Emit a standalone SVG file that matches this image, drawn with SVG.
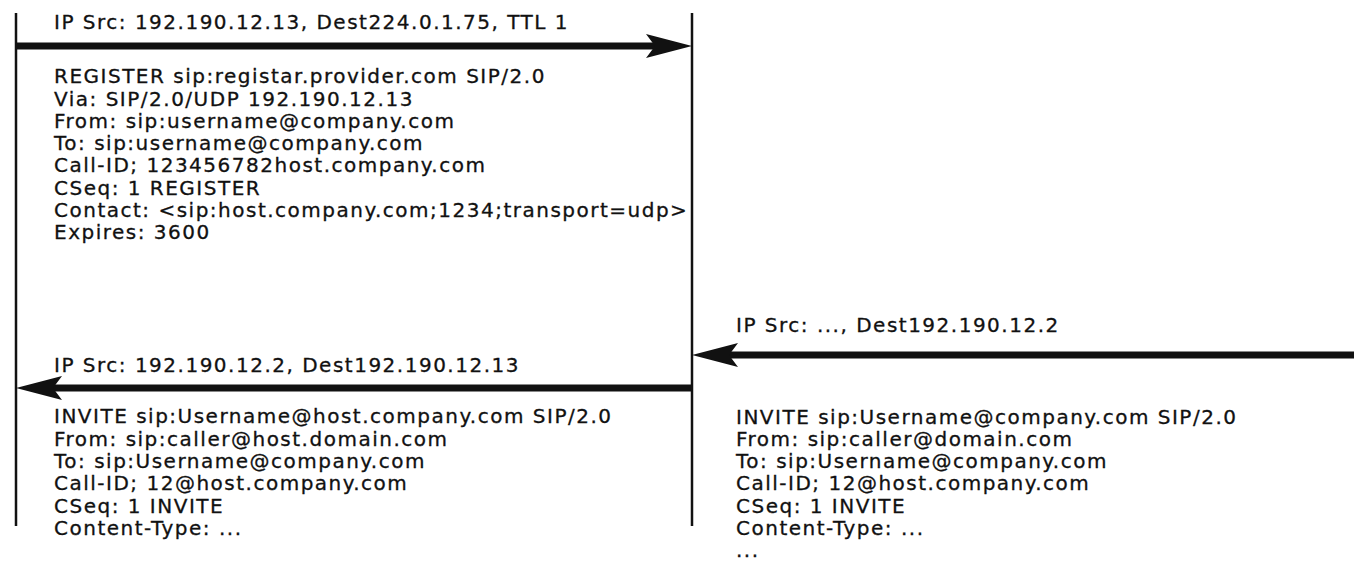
<svg xmlns="http://www.w3.org/2000/svg" width="1354" height="564" viewBox="0 0 1354 564">
<defs>
<style>
.t{font-family:"DejaVu Sans","Liberation Sans",sans-serif;font-size:20px;letter-spacing:1.5px;fill:#111;stroke:#111;stroke-width:0.3}
.life{stroke:#111;stroke-width:2.5;fill:none}
.msg{stroke:#111;stroke-width:7;fill:none}
</style>
<marker id="head" markerUnits="userSpaceOnUse" markerWidth="50" markerHeight="28" viewBox="0 0 50 28" refX="16" refY="14" orient="auto">
<path d="M0,2 L46,14 L0,26 L9,14 Z" fill="#111"/>
</marker>
</defs>
<rect width="1354" height="564" fill="#fff"/>
<g id="lifelines">
<line class="life" x1="16" y1="13" x2="16" y2="526"/>
<line class="life" x1="692" y1="13" x2="692" y2="526"/>
</g>
<g id="connectors">
<path class="msg" d="M16,46 L662,46" marker-end="url(#head)"/>
<path class="msg" d="M1354,355 L722,355" marker-end="url(#head)"/>
<path class="msg" d="M692,388 L46,388" marker-end="url(#head)"/>
</g>
<g id="register">
<text class="t" x="54" y="29">IP Src: 192.190.12.13, Dest224.0.1.75, TTL 1</text>
<text class="t" x="54" y="83">REGISTER sip:registar.provider.com SIP/2.0</text>
<text class="t" x="54" y="106">Via: SIP/2.0/UDP 192.190.12.13</text>
<text class="t" x="54" y="128">From: sip:username@company.com</text>
<text class="t" x="54" y="150">To: sip:username@company.com</text>
<text class="t" x="54" y="172">Call-ID; 123456782host.company.com</text>
<text class="t" x="54" y="195">CSeq: 1 REGISTER</text>
<text class="t" x="54" y="217">Contact: &lt;sip:host.company.com;1234;transport=udp&gt;</text>
<text class="t" x="54" y="239">Expires: 3600</text>
</g>
<g id="invite-in">
<text class="t" x="736" y="332">IP Src: ..., Dest192.190.12.2</text>
<text class="t" x="736" y="424">INVITE sip:Username@company.com SIP/2.0</text>
<text class="t" x="736" y="446">From: sip:caller@domain.com</text>
<text class="t" x="736" y="468">To: sip:Username@company.com</text>
<text class="t" x="736" y="490">Call-ID; 12@host.company.com</text>
<text class="t" x="736" y="513">CSeq: 1 INVITE</text>
<text class="t" x="736" y="535">Content-Type: ...</text>
<text class="t" x="736" y="557">...</text>
</g>
<g id="invite-out">
<text class="t" x="54" y="372">IP Src: 192.190.12.2, Dest192.190.12.13</text>
<text class="t" x="54" y="423">INVITE sip:Username@host.company.com SIP/2.0</text>
<text class="t" x="54" y="446">From: sip:caller@host.domain.com</text>
<text class="t" x="54" y="468">To: sip:Username@company.com</text>
<text class="t" x="54" y="490">Call-ID; 12@host.company.com</text>
<text class="t" x="54" y="513">CSeq: 1 INVITE</text>
<text class="t" x="54" y="535">Content-Type: ...</text>
</g>
</svg>
